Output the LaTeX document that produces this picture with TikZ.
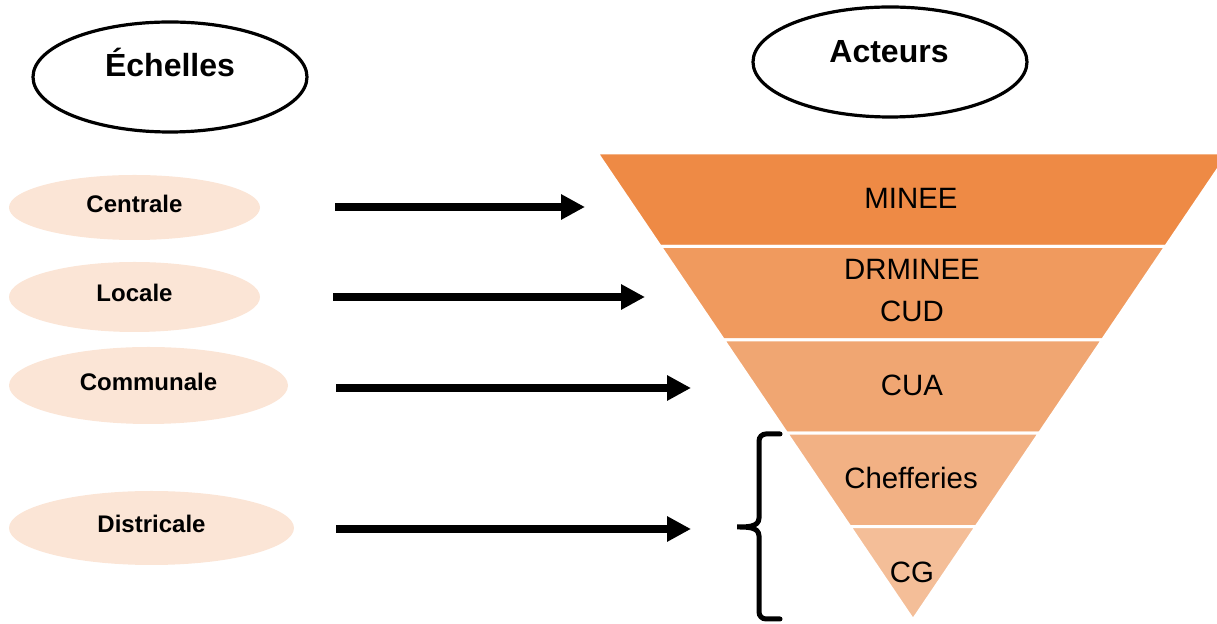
\documentclass[tikz,border=0pt]{standalone}
\usepackage{fontspec}
\setmainfont{Liberation Sans}
\usetikzlibrary{arrows.meta,calc,shapes.geometric}
\definecolor{echPeach}{HTML}{FBE5D6}
\definecolor{bandA}{HTML}{EE8A45}
\definecolor{bandB}{HTML}{F09A5E}
\definecolor{bandC}{HTML}{F0A672}
\definecolor{bandD}{HTML}{F2B184}
\definecolor{bandE}{HTML}{F4BE98}
\tikzset{
  titre/.style={ellipse,draw=black,line width=1.6pt,inner sep=0pt,
                minimum width=137pt,minimum height=55pt},
  titretxt/.style={anchor=base,inner sep=0pt,font=\fontsize{16}{19}\selectfont\bfseries},
  echelle/.style={ellipse,fill=echPeach,inner sep=0pt,text depth=4pt,
                  font=\fontsize{12}{14}\selectfont\bfseries},
  acteur/.style={align=center,inner sep=0pt,font=\fontsize{14.7}{21}\selectfont},
  fleche/.style={-{Triangle[length=12pt,width=12pt]},line width=4pt},
  accolade/.style={line width=2.5pt,line cap=round},
}

\begin{document}
\begin{tikzpicture}[x=0.5pt,y=-0.5pt]
  \useasboundingbox (0,0) rectangle (1217,624);
  % titles
  \node[titre] (echelles) at (170,77) {};
  \node[titretxt] (echellesT) at (170,77) {Échelles};
  \node[titre] (acteurs) at (890,62) {};
  \node[titretxt] (acteursT) at (889,63) {Acteurs};
  % pyramid
  \coordinate (L) at (597,153);
  \coordinate (R) at (1229,153);
  \coordinate (A) at (913,620);
  \foreach \i/\col in {0/bandA,1/bandB,2/bandC,3/bandD,4/bandE}{
    \pgfmathsetmacro{\j}{\i+1}
    \filldraw[fill=\col,draw=white,line width=1.5pt]
      ($(L)!\i*0.2!(A)$) -- ($(R)!\i*0.2!(A)$) -- ($(R)!\j*0.2!(A)$) -- ($(L)!\j*0.2!(A)$) -- cycle;
  }
  \node[acteur] (minee) at (911,198) {MINEE};
  \node[acteur] (drminee) at (912,291) {DRMINEE\\CUD};
  \node[acteur] (cua) at (912,385) {CUA};
  \node[acteur] (chefferies) at (911,478) {Chefferies};
  \node[acteur] (cg) at (912,572) {CG};
  % scales
  \node[echelle,minimum width=125.5pt,minimum height=32.5pt] (centrale) at (134.5,207.5) {Centrale};
  \node[echelle,minimum width=125.5pt,minimum height=35pt] (locale) at (134.5,297) {Locale};
  \node[echelle,minimum width=139.5pt,minimum height=38.5pt] (communale) at (148.5,385.5) {Communale};
  \node[echelle,minimum width=142.5pt,minimum height=37pt] (districale) at (151.5,528) {Districale};
  % arrows
  \coordinate (centraleA) at (335,207);
  \coordinate (centraleB) at (585,207);
  \coordinate (localeA) at (333,297);
  \coordinate (localeB) at (645,297);
  \coordinate (communaleA) at (336,388);
  \coordinate (communaleB) at (691,388);
  \coordinate (districaleA) at (336,529);
  \coordinate (districaleB) at (691,529);
  \draw[fleche] (centraleA) -- (centraleB);
  \draw[fleche] (localeA) -- (localeB);
  \draw[fleche] (communaleA) -- (communaleB);
  \draw[fleche] (districaleA) -- (districaleB);
  % brace
  \draw[accolade] (780,434) -- (766,434) to[out=180,in=90] (759,441) -- (759,518)
    to[out=-90,in=0] (737,527) to[out=0,in=90] (759,536) -- (759,612)
    to[out=-90,in=180] (766,619) -- (780,619);
\end{tikzpicture}
\end{document}
